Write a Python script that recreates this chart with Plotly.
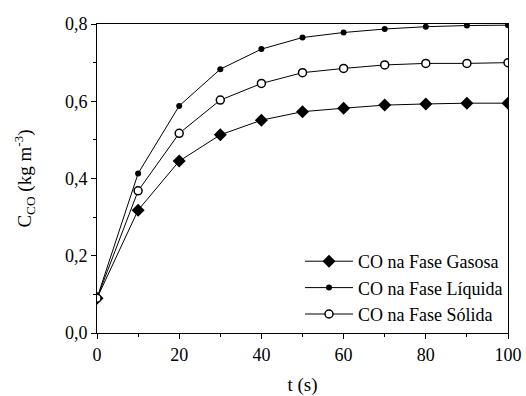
import plotly.graph_objects as go

t = [0, 10, 20, 30, 40, 50, 60, 70, 80, 90, 100]
gas = [0.09, 0.318, 0.445, 0.513, 0.551, 0.573, 0.582, 0.590, 0.593, 0.595, 0.595]
liquid = [0.09, 0.413, 0.588, 0.683, 0.735, 0.765, 0.778, 0.787, 0.793, 0.796, 0.797]
solid = [0.09, 0.368, 0.517, 0.603, 0.646, 0.674, 0.685, 0.694, 0.698, 0.698, 0.700]
names = ["CO na Fase Gasosa", "CO na Fase Líquida", "CO na Fase Sólida"]

FONT = "Liberation Serif, Times New Roman, serif"

fig = go.Figure()
fig.add_trace(go.Scatter(x=t, y=gas, name=names[0], mode="lines+markers",
                         line=dict(color="black", width=1),
                         marker=dict(symbol="diamond", size=10, color="black")))
fig.add_trace(go.Scatter(x=t, y=liquid, name=names[1], mode="lines+markers",
                         line=dict(color="black", width=1),
                         marker=dict(symbol="circle", size=6, color="black")))
fig.add_trace(go.Scatter(x=t, y=solid, name=names[2], mode="lines+markers",
                         line=dict(color="black", width=1),
                         marker=dict(symbol="circle", size=8, color="white",
                                     line=dict(color="black", width=1.5))))

axis_common = dict(showline=True, linecolor="black", linewidth=1, mirror=True,
                   showgrid=False, zeroline=False, ticks="outside", ticklen=5,
                   tickcolor="black", tickwidth=1, automargin=False,
                   tickfont=dict(family=FONT, size=18, color="black"))

fig.update_xaxes(range=[0, 100], dtick=20, tick0=0,
                 minor=dict(dtick=10, ticks="outside", ticklen=3, tickcolor="black"),
                 title=dict(text="t (s)", font=dict(family=FONT, size=19, color="black"), standoff=20),
                 **axis_common)
fig.update_yaxes(range=[0, 0.8], dtick=0.2, tick0=0, tickformat=".1f",
                 minor=dict(dtick=0.1, ticks="outside", ticklen=3, tickcolor="black"),
                 title=dict(text="C<sub>CO</sub> (kg m<sup>-3</sup>)",
                            font=dict(family=FONT, size=19, color="black"), standoff=28),
                 **axis_common)

fig.update_layout(
    width=526, height=396,
    margin=dict(l=97, r=18, t=24, b=63),
    paper_bgcolor="white", plot_bgcolor="white",
    separators=",.",
    showlegend=True,
    legend=dict(x=1.0, xanchor="right", y=0.0, yanchor="bottom",
                font=dict(family=FONT, size=18, color="black"),
                itemwidth=48,
                bgcolor="rgba(0,0,0,0)", borderwidth=0, tracegroupgap=0),
    font=dict(family=FONT, color="black"),
)

fig.write_html("out.html")
